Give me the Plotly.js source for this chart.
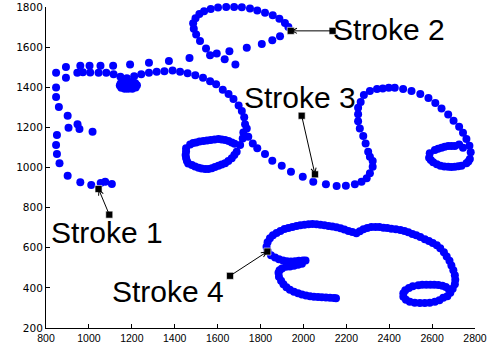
<!DOCTYPE html>
<html>
<head>
<meta charset="utf-8">
<script src="https://cdn.plot.ly/plotly-3.0.1.min.js"></script>
<style>html,body{margin:0;padding:0;background:#fff}#chart{width:492px;height:353px}</style>
</head>
<body>
<div id="chart"></div>
<script>
// ---- data ----
var stroke1X = [1107,1076,1055,1011,960,901,863,851,847,851,1017,956,905,947,901,860,847,847,847,893,893,960,1003,1054,1113,1192,1280,1373,1469,946,972,1006,1045,1081,1115,1147,1177,1211,1244,1280,1316,1352,1390,1425,1460,1496,1532,1565,1593,1624,1651,1674,1698,1713,1724,1728,1144,1151,1167,1183,1202,1218,1224,1216,1199,1181,1162,1148];
var stroke1Y = [918,929,923,913,926,959,1021,1067,1112,1162,1178,1192,1198,1216,1258,1302,1352,1399,1472,1501,1447,1507,1507,1507,1507,1513,1522,1531,1546,1472,1475,1474,1472,1472,1465,1452,1445,1455,1465,1472,1477,1480,1484,1477,1470,1460,1447,1430,1415,1388,1366,1341,1309,1281,1251,1216,1409,1398,1393,1392,1393,1399,1410,1420,1425,1425,1424,1419];

var stroke2X = [1930,1914,1888,1857,1821,1785,1751,1713,1677,1640,1602,1568,1537,1515,1497,1486,1489,1500,1518,1546,1565,1596,1633,1655,1683,1736,1806,1855,1891];
var stroke2Y = [1700,1720,1742,1759,1771,1782,1792,1799,1800,1800,1797,1790,1779,1765,1744,1719,1692,1663,1631,1593,1560,1568,1540,1580,1513,1597,1616,1634,1654];

var stroke3X = [1736,1720,1743,1717,1705,1689,1666,1635,1604,1573,1542,1511,1480,1457,1451,1453,1472,1500,1534,1568,1604,1635,1666,
  1463,1453,1453,1486,1516,1551,1586,1619,1651,1679,1525,1557,1588,1619,1650,1678,1495,
  1764,1785,1821,1855,1899,1942,1997,2046,2105,2155,2198,2240,2271,2295,2310,2323,2323,2310,2302,2290,
  2279,2263,2255,2255,2255,2267,2282,2310,2343,2370,2398,2426,2465,2504,2545,2583,2615,2644,2675,2700,
  2726,2744,2760,2774,2780,2776,2760,2737,2706,2675,2639,2605,2586,2589,2613,2644,2675,2706,2726,2744,
  2657,2622,2690,2722,2594,2628,2659,2690,2769];
var stroke3Y = [1195,1175,1153,1145,1112,1079,1046,1021,1009,996,993,999,1012,1032,1062,1096,1115,1125,1132,1137,1142,1137,1125,
  1020,1047,1080,1122,1129,1134,1139,1140,1132,1119,995,993,1002,1015,1032,1062,1005,
  1120,1096,1067,1034,1009,979,954,929,916,908,909,916,929,946,971,1004,1032,1054,1079,1120,
  1157,1195,1231,1265,1298,1327,1361,1381,1391,1394,1397,1397,1391,1381,1366,1346,1321,1294,1264,1233,
  1203,1173,1142,1108,1076,1042,1021,1009,1004,1004,1009,1026,1049,1071,1087,1099,1107,1107,1115,1099,
  1005,1016,1003,1006,1037,1093,1103,1107,1030];

var stroke4X = [1833,1828,1833,1844,1858,1875,1893,1912,1930,1949,1968,1986,2005,2024,2042,2061,2079,2098,2117,2135,
  2154,2173,2191,2210,2228,2247,2263,2280,2298,2317,2336,2354,2373,2391,2410,2431,2452,2471,2489,2508,
  2526,2545,2566,2585,2603,2622,2638,2655,2668,2681,2690,2699,2706,2708,2706,2696,2685,2671,2652,2634,2613,
  2589,2566,2543,2519,2496,2478,2466,2466,2475,2492,2510,
  2536,2554,2573,2592,2610,2629,2648,2664,2678,
  1849,1868,1886,1905,1923,1942,1961,1979,1998,2010,
  1993,1975,1956,1937,1919,1900,1889,
  1884,1886,1896,1907,1921,1937,1956,1975,1993,2012,2031,2049,2068,2086,2105,2124,2142,2152];
var stroke4Y = [585,605,627,647,662,674,684,693,699,704,709,712,715,717,718,717,715,712,709,706,
  702,697,691,684,678,672,682,692,699,703,704,703,700,698,695,692,688,683,677,669,
  662,653,642,634,624,612,597,577,557,535,512,488,463,440,418,396,376,358,351,338,331,
  326,324,324,326,331,341,356,373,388,399,408,
  413,415,415,415,415,414,410,404,393,
  562,552,543,537,533,532,533,535,537,537,
  520,515,510,507,505,497,488,
  475,455,435,418,403,391,381,373,367,362,358,356,354,353,352,351,349,348];

var labelText = ['Stroke 1','Stroke 2','Stroke 3','Stroke 4'];
var labelX = [822, 2137, 1721, 1108];
var labelY = [678, 1687, 1348, 380];
var arrowTailX = [1095, 2136, 1992, 1658];
var arrowTailY = [765, 1681, 1258, 460];
var arrowHeadX = [1045, 1941, 2054, 1832];
var arrowHeadY = [893, 1681, 966, 581];

var xTicks = [800,1000,1200,1400,1600,1800,2000,2200,2400,2600,2800];
var yTicks = [200,400,600,800,1000,1200,1400,1600,1800];

// ---- traces ----
function strokeTrace(xs, ys, name){
  return {type:'scatter', mode:'markers', x:xs, y:ys, name:name, cliponaxis:false,
    marker:{color:'#0000FF', size:8, line:{width:0}}, hoverinfo:'skip'};
}
var traces = [
  strokeTrace(stroke1X, stroke1Y, 'Stroke 1'),
  strokeTrace(stroke2X, stroke2Y, 'Stroke 2'),
  strokeTrace(stroke3X, stroke3Y, 'Stroke 3'),
  strokeTrace(stroke4X, stroke4Y, 'Stroke 4'),
  {type:'scatter', mode:'markers', x:arrowTailX.concat(arrowHeadX), y:arrowTailY.concat(arrowHeadY),
   cliponaxis:false, hoverinfo:'skip',
   marker:{symbol:'square', color:'#000000', size:7, line:{color:'#ffffff', width:0.6}}}
];

var annotations = [];
for (var i = 0; i < labelText.length; i++) {
  annotations.push({x:arrowHeadX[i], y:arrowHeadY[i], xref:'x', yref:'y',
    ax:arrowTailX[i], ay:arrowTailY[i], axref:'x', ayref:'y',
    text:'', showarrow:true, arrowhead:5, arrowsize:1, arrowwidth:1, arrowcolor:'#000000',
    standoff:0, startstandoff:0});
  annotations.push({x:labelX[i], y:labelY[i], xref:'x', yref:'y', text:labelText[i],
    showarrow:false, xanchor:'left', yanchor:'middle', borderpad:0, borderwidth:0,
    font:{family:'Liberation Sans, Arial, sans-serif', size:30, color:'#000000'}});
}

var axisCommon = {showline:true, linecolor:'#000000', linewidth:1, mirror:false,
  ticks:'inside', ticklen:4, tickwidth:1, tickcolor:'#000000',
  showgrid:false, zeroline:false, fixedrange:true};

var layout = {
  width:492, height:353,
  margin:{l:46, r:17, t:7, b:25, pad:0},
  paper_bgcolor:'#ffffff', plot_bgcolor:'#ffffff',
  showlegend:false,
  xaxis:Object.assign({}, axisCommon, {range:[800,2800], tickvals:xTicks, ticktext:xTicks.map(String),
    tickfont:{family:'Liberation Sans, Arial, sans-serif', size:10.5, color:'#000000'}}),
  yaxis:Object.assign({}, axisCommon, {range:[200,1800], tickvals:yTicks, ticktext:yTicks.map(String),
    tickfont:{family:'DejaVu Sans, sans-serif', size:10.5, color:'#000000'}}),
  annotations:annotations
};

Plotly.newPlot('chart', traces, layout, {staticPlot:true, displayModeBar:false});
</script>
</body>
</html>
